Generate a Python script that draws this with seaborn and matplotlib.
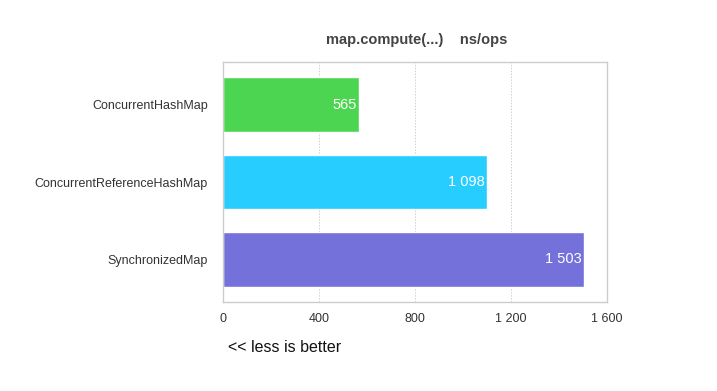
import matplotlib
matplotlib.use("Agg")
import matplotlib.pyplot as plt
import seaborn as sns
import pandas as pd

categories = ["ConcurrentHashMap", "ConcurrentReferenceHashMap", "SynchronizedMap"]
values = [565, 1098, 1503]
value_labels = ["565", "1 098", "1 503"]
xticks = [0, 400, 800, 1200, 1600]
xtick_labels = ["0", "400", "800", "1 200", "1 600"]
colors = ["#4cd550", "#27cdfe", "#7571da"]

sns.set_theme(style="white")
plt.rcParams['font.family'] = ['Liberation Sans', 'DejaVu Sans']

df = pd.DataFrame({"name": categories, "value": values})

fig = plt.figure(figsize=(7.17, 3.91), dpi=100)
ax = fig.add_axes([223/717, 1-302/391, (607-223)/717, (302-62)/391])

sns.barplot(data=df, y="name", x="value", hue="name", palette=colors,
            orient="h", width=0.71, ax=ax, legend=False, saturation=1)

ax.set_xlim(0, 1600)
ax.set_ylim(2.55, -0.55)
ax.set_xticks(xticks)
ax.set_xticklabels(xtick_labels, fontsize=9, color="#333333")
ax.tick_params(axis="y", labelsize=9, colors="#333333", length=0, pad=11)
ax.tick_params(axis="x", length=0, pad=8)
ax.set_xlabel("")
ax.set_ylabel("")
ax.set_axisbelow(True)
for x in xticks[1:-1]:
    ax.axvline(x, color="#d0d0d0", linestyle=(0, (1.5, 1.5)), linewidth=0.7, zorder=0)
for s in ax.spines.values():
    s.set_color("#cccccc")
    s.set_linewidth(1)

for i, (v, lab) in enumerate(zip(values, value_labels)):
    ax.text(v - 8, i, lab, color="white", ha="right", va="center", fontsize=10.5)

fig.text(417/717, 1-40/391, "map.compute(...)    ns/ops", ha="center", va="center",
         fontsize=10.5, fontweight="bold", color="#444444")
fig.text(228/717, 1-348/391, "<< less is better", ha="left", va="center",
         fontsize=11.5, color="#111111")

fig.savefig("out.png", dpi=100)
